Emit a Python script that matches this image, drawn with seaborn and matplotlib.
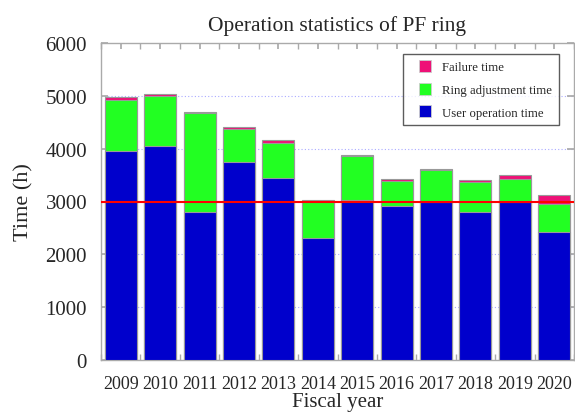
import matplotlib
matplotlib.use("Agg")
import matplotlib.pyplot as plt
import matplotlib.patches as mpatches
from matplotlib.legend_handler import HandlerPatch
from matplotlib.ticker import MultipleLocator
import seaborn as sns
import pandas as pd
import numpy as np

years = ["2009", "2010", "2011", "2012", "2013", "2014", "2015", "2016", "2017", "2018", "2019", "2020"]
user_time = [3960, 4050, 2810, 3750, 3445, 2315, 3030, 2910, 2990, 2800, 2990, 2425]
adjust_time = [970, 950, 1860, 620, 670, 680, 825, 485, 600, 570, 445, 530]
failure_time = [45, 30, 20, 45, 55, 25, 25, 30, 30, 40, 70, 170]
target_line = 3000

sns.set_theme(style="white")
plt.rcParams['font.family'] = ['Liberation Serif', 'DejaVu Serif']

df = pd.DataFrame({"year": years, "user": user_time, "adjust": adjust_time, "failure": failure_time})
df["ua"] = df["user"] + df["adjust"]
df["total"] = df["ua"] + df["failure"]

c_user = "#0000CC"
c_adj = "#22FF22"
c_fail = "#EE1177"
edge = "#999999"

fig = plt.figure(figsize=(5.75, 4.14), dpi=100)
ax = fig.add_axes([101/575, 1 - 361/414, 473/575, 317/414])

for yv in range(1000, 6000, 1000):
    ax.axhline(yv, color="#aaaaff", linestyle=(0, (1, 2)), linewidth=0.8, zorder=0)

sns.barplot(data=df, x="year", y="total", color=c_fail, saturation=1, width=0.81,
            edgecolor=edge, linewidth=0.8, ax=ax, zorder=2)
sns.barplot(data=df, x="year", y="ua", color=c_adj, saturation=1, width=0.81,
            edgecolor=edge, linewidth=0.8, ax=ax, zorder=3)
sns.barplot(data=df, x="year", y="user", color=c_user, saturation=1, width=0.81,
            edgecolor=edge, linewidth=0.8, ax=ax, zorder=4)

ax.axhline(target_line, color="#FF0000", linewidth=1.5, zorder=5)

ax.set_xlim(-0.5, 11.5)
ax.set_ylim(0, 6000)
ax.yaxis.set_major_locator(MultipleLocator(1000))
ax.xaxis.set_minor_locator(MultipleLocator(0.5))

for s in ax.spines.values():
    s.set_color("#aaaaaa")
    s.set_linewidth(1.0)

ax.tick_params(axis="both", which="both", direction="in", color="#aaaaaa",
               top=True, right=True, bottom=True, left=True)
ax.tick_params(axis="x", which="major", length=4, labelsize=13, pad=11)
ax.tick_params(axis="x", which="minor", length=4)
ax.tick_params(axis="y", which="major", length=5, labelsize=15, pad=10)

ax.set_xlabel("Fiscal year", fontsize=15, labelpad=0)
ax.set_ylabel("Time (h)", fontsize=16, labelpad=9)
ax.set_title("Operation statistics of PF ring", fontsize=15.5, pad=9)


class RightSquare(HandlerPatch):
    def create_artists(self, legend, orig_handle, xdescent, ydescent, width, height, fontsize, trans):
        side = height * 1.05
        p = mpatches.Rectangle((width - side - xdescent, -ydescent + (height - side) / 2), side, side,
                               facecolor=orig_handle.get_facecolor(), edgecolor="#cccccc",
                               linewidth=0.6, transform=trans)
        return [p]


handles = [
    mpatches.Patch(facecolor=c_fail, label="Failure time"),
    mpatches.Patch(facecolor=c_adj, label="Ring adjustment time"),
    mpatches.Patch(facecolor=c_user, label="User operation time"),
]
leg = ax.legend(handles=handles, loc="upper right", bbox_to_anchor=(0.968, 0.966),
                fontsize=9.2, frameon=True, fancybox=False, handlelength=1.7,
                handleheight=1.0, handletextpad=0.9, labelspacing=0.75,
                borderpad=0.5, borderaxespad=0.0,
                handler_map={mpatches.Patch: RightSquare()})
leg.get_frame().set_edgecolor("#333333")
leg.get_frame().set_linewidth(1.0)
leg.set_zorder(10)

fig.savefig("out.png", dpi=100)
